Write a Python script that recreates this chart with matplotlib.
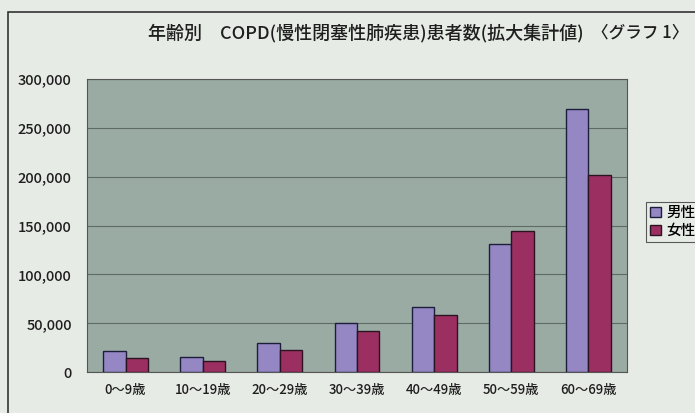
import numpy as np
import matplotlib.pyplot as plt
from matplotlib.patches import Rectangle

plt.rcParams['font.family'] = ['Noto Sans CJK JP', 'DejaVu Sans']

ages = ["0～9歳", "10～19歳", "20～29歳", "30～39歳", "40～49歳", "50～59歳", "60～69歳"]
male = [21500, 15400, 29700, 50200, 66500, 131000, 269300]
female = [14300, 11300, 22500, 42000, 58400, 144400, 201700]
yticks = [0, 50000, 100000, 150000, 200000, 250000, 300000]

male_color = "#9487c4"
female_color = "#9c2f62"

fig = plt.figure(figsize=(6.95, 4.13), dpi=100)
fig.patch.set_facecolor("#e6ebe5")

# outer frame of the clipping
fig.patches.append(Rectangle((8 / 695, -0.05), 1.0, 1 - 12 / 413 + 0.05,
                             transform=fig.transFigure, fill=False,
                             edgecolor="#333333", linewidth=1.2))

ax = fig.add_axes([87 / 695, 1 - 372 / 413, 540 / 695, 293 / 413])
ax.set_facecolor("#9aaba4")

x = np.arange(len(ages))
w = 0.29
ax.bar(x - w / 2, male, w, color=male_color, edgecolor="#1d1f3a", linewidth=1.0, label="男性", zorder=3)
ax.bar(x + w / 2, female, w, color=female_color, edgecolor="#2a1420", linewidth=1.0, label="女性", zorder=3)

ax.set_xlim(-0.5, len(ages) - 0.5)
ax.set_ylim(0, 300000)
ax.set_yticks(yticks)
ax.set_yticklabels([f"{v:,}" for v in yticks], fontsize=10.5, color="#1e1e1e", fontweight="medium")
ax.set_xticks(x)
ax.set_xticklabels(ages, fontsize=9.5, color="#1e1e1e", fontweight="medium")
ax.tick_params(axis="x", length=0, pad=8)
ax.tick_params(axis="y", length=0, pad=11)
ax.yaxis.grid(True, color="#5f6b66", linewidth=0.8, zorder=1)
for s in ax.spines.values():
    s.set_color("#555555")
    s.set_linewidth(0.8)

fig.text(0.527, 1 - 33 / 413, "年齢別　COPD(慢性閉塞性肺疾患)患者数(拡大集計値)",
         ha="center", va="center", fontsize=13, color="#1e1e1e", fontweight="medium")
fig.text(640 / 695, 1 - 33 / 413, "〈グラフ 1〉", ha="center", va="center",
         fontsize=12, color="#1e1e1e", fontweight="medium")

leg = fig.legend(loc="upper left", bbox_to_anchor=(646 / 695, 1 - 202 / 413),
                 prop={"size": 10.5, "weight": "medium"}, frameon=True, fancybox=False,
                 handlelength=0.7, handleheight=0.7, handletextpad=0.4, borderpad=0.3,
                 labelspacing=0.25, borderaxespad=0)
leg.get_frame().set_edgecolor("#333333")
leg.get_frame().set_facecolor("#e6ebe5")
leg.get_frame().set_linewidth(0.8)

plt.savefig("out.png", dpi=100, facecolor=fig.get_facecolor())
